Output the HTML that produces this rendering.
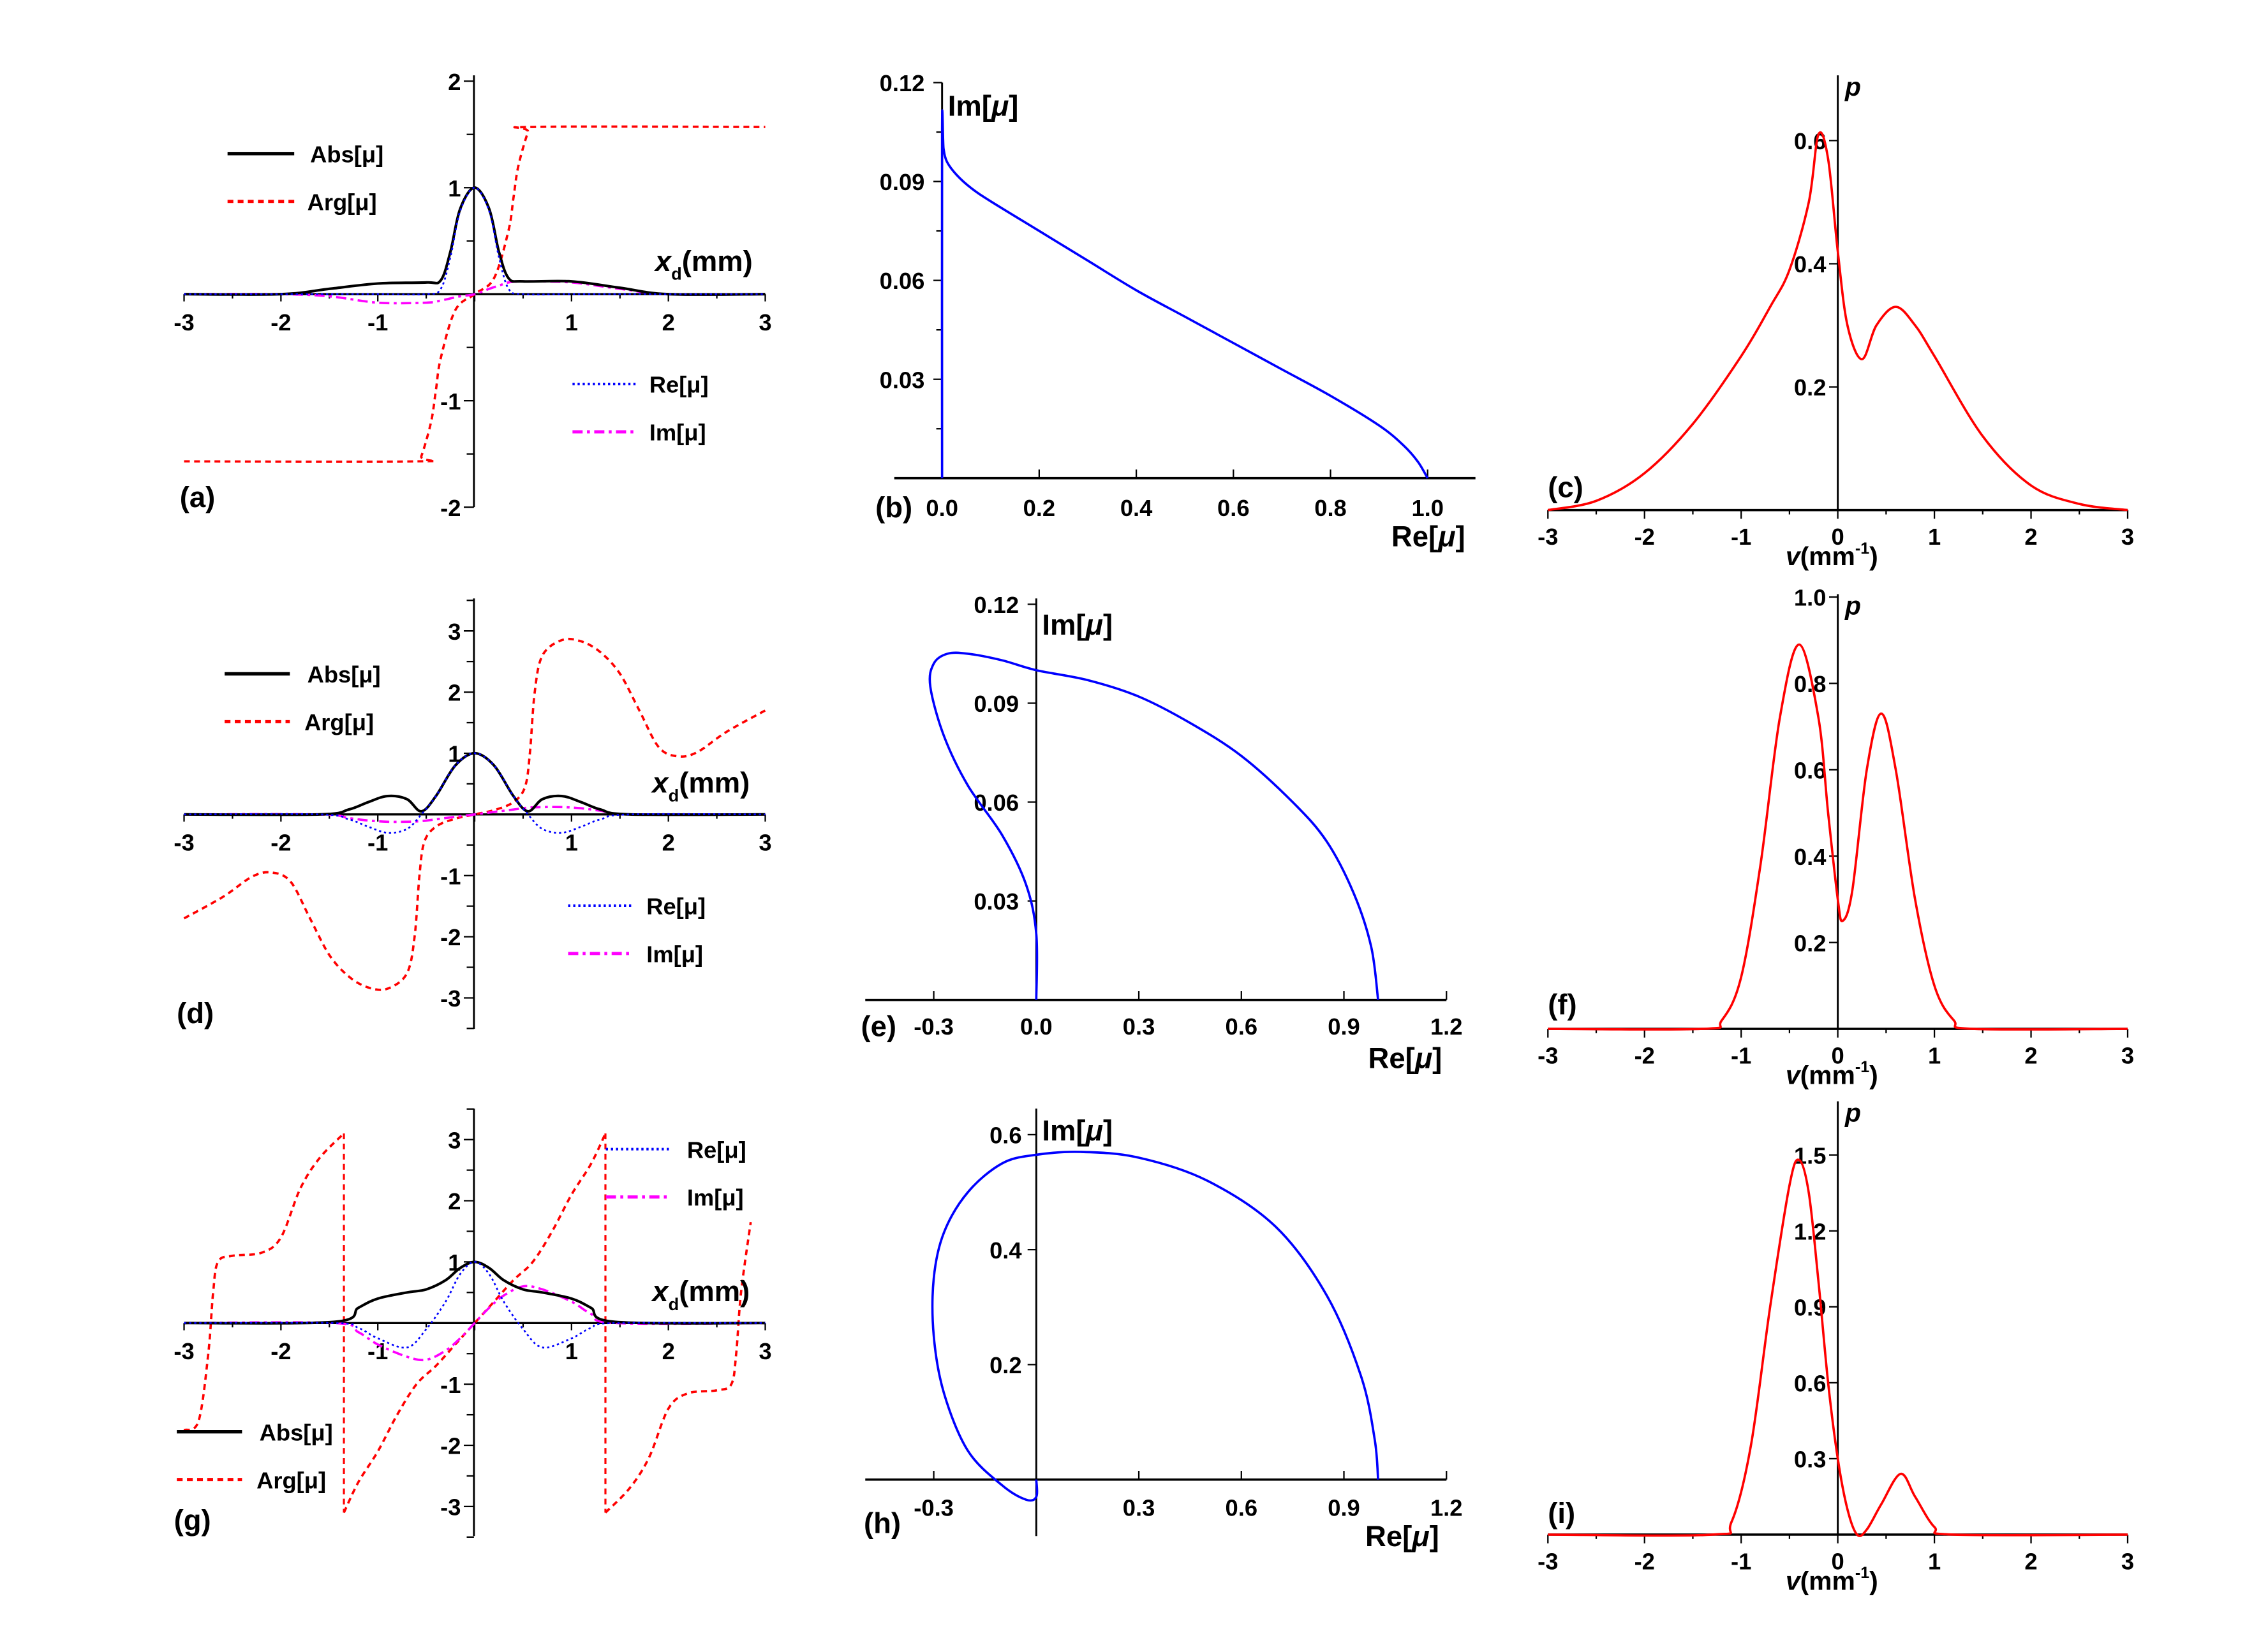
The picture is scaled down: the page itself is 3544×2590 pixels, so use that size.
<!DOCTYPE html>
<html><head><meta charset="utf-8"><style>
html,body{margin:0;padding:0;background:#fff}
svg{display:block}
text{font-family:"Liberation Sans",Arial,sans-serif;font-weight:bold;fill:#000}
</style></head><body>
<svg id="fig" xmlns="http://www.w3.org/2000/svg" width="3544" height="2590" viewBox="0 0 1560 1140" preserveAspectRatio="none">
<rect x="0" y="0" width="1560" height="1140" fill="#fff"/>
<g id="root"></g>
</svg>
<script>
// ---------- data (panel a) ----------
const aX=[-3,-2,-1.5,-1,-0.5,-0.35,-0.25,-0.15,0,0.15,0.25,0.35,0.5,1,1.5,2,3];
const aAbs=[0,0,0.05,0.1,0.11,0.13,0.4,0.8,1,0.8,0.4,0.15,0.12,0.12,0.06,0,0];
const aRe=[0,0,0,0,0,0.05,0.35,0.78,1,0.78,0.35,0.05,0,0,0,0,0];
const aIm=[0,0,-0.02,-0.08,-0.08,-0.06,-0.04,-0.02,0,0.05,0.08,0.11,0.12,0.11,0.05,0,0];
const aArgX=[-3,-0.6,-0.55,-0.45,-0.4,-0.35,-0.2,0,0.2,0.35,0.4,0.45,0.55,0.6,3];
const aArg=[-1.57,-1.57,-1.52,-1.2,-0.9,-0.6,-0.15,0,0.15,0.6,0.9,1.2,1.52,1.57,1.57];
// ---------- panel b ----------
const bRe=[0,0,0.003,0.01,0.03,0.06,0.1,0.2,0.3,0.4,0.5,0.6,0.7,0.8,0.9,0.95,0.98,1.0];
const bIm=[0,0.105,0.1,0.096,0.092,0.088,0.084,0.075,0.066,0.057,0.049,0.041,0.033,0.025,0.016,0.01,0.005,0];
// ---------- panel c ----------
const cV=[-3,-2.5,-2,-1.5,-1,-0.7,-0.5,-0.3,-0.2,-0.1,0,0.1,0.25,0.4,0.6,0.8,1,1.5,2,2.5,3];
const cP=[0,0.015,0.06,0.14,0.25,0.33,0.39,0.5,0.61,0.57,0.42,0.3,0.245,0.3,0.33,0.3,0.25,0.12,0.04,0.01,0];
// ---------- panel d ----------
const dX=[-3,-1.6,-1.3,-1.1,-0.9,-0.7,-0.55,-0.4,-0.2,0,0.2,0.4,0.55,0.7,0.9,1.1,1.3,1.6,3];
const dAbs=[0,0,0.08,0.2,0.3,0.25,0.05,0.3,0.8,1,0.8,0.3,0.05,0.25,0.3,0.2,0.08,0,0];
const dRe=[0,0,-0.08,-0.2,-0.3,-0.24,0,0.3,0.8,1,0.8,0.3,0,-0.24,-0.3,-0.2,-0.08,0,0];
const dIm=[0,0,-0.06,-0.1,-0.12,-0.12,-0.11,-0.08,-0.04,0,0.04,0.08,0.11,0.12,0.12,0.1,0.06,0,0];
const dArgX=[-3,-2.6,-2.3,-2.1,-1.9,-1.7,-1.5,-1.3,-1.1,-0.9,-0.7,-0.62,-0.57,-0.52,-0.4,-0.2,0,0.2,0.4,0.52,0.57,0.62,0.7,0.9,1.1,1.3,1.5,1.7,1.9,2.1,2.3,2.6,3];
const dArg=[-1.7,-1.35,-1.02,-0.95,-1.1,-1.7,-2.3,-2.65,-2.83,-2.85,-2.6,-2.0,-1.0,-0.45,-0.2,-0.07,0,0.07,0.2,0.45,1.0,2.0,2.6,2.85,2.83,2.65,2.3,1.7,1.1,0.95,1.02,1.35,1.7];
// ---------- panel e ----------
const eRe=[0,0,-0.03,-0.1,-0.2,-0.27,-0.31,-0.3,-0.26,-0.2,-0.1,0,0.15,0.3,0.45,0.6,0.75,0.85,0.93,0.98,1.0];
const eIm=[0,0.02,0.035,0.05,0.065,0.08,0.095,0.102,0.105,0.105,0.103,0.1,0.097,0.092,0.084,0.074,0.06,0.048,0.032,0.016,0];
// ---------- panel f ----------
const fV=[-3,-1.4,-1.2,-1,-0.8,-0.6,-0.4,-0.2,-0.1,0,0.05,0.15,0.3,0.45,0.6,0.8,1,1.2,1.4,3];
const fP=[0,0,0.02,0.12,0.38,0.72,0.89,0.72,0.5,0.3,0.25,0.32,0.6,0.73,0.6,0.3,0.1,0.02,0,0];
// ---------- panel g ----------
const gX=[-3,-1.45,-1.2,-1,-0.7,-0.5,-0.3,-0.15,0,0.15,0.3,0.5,0.7,1,1.2,1.45,3];
const gAbs=[0,0.02,0.25,0.4,0.5,0.55,0.7,0.9,1,0.9,0.7,0.55,0.5,0.4,0.25,0.02,0];
const gRe=[0,0,-0.08,-0.25,-0.4,-0.1,0.35,0.8,1,0.8,0.35,-0.1,-0.4,-0.25,-0.08,0,0];
const gIm=[0,0,-0.15,-0.35,-0.55,-0.6,-0.45,-0.25,0,0.25,0.45,0.6,0.55,0.35,0.15,0,0];
const gArgLX=[-3,-2.85,-2.75,-2.7,-2.65,-2.5,-2.2,-2.0,-1.8,-1.6,-1.35];
const gArgL=[-1.75,-1.6,-0.5,0.5,1.0,1.1,1.15,1.4,2.2,2.7,3.1];
const gArgMX=[-1.35,-1.2,-1,-0.8,-0.6,-0.4,-0.2,0,0.2,0.4,0.6,0.8,1,1.2,1.35];
const gArgM=[-3.1,-2.6,-2.1,-1.5,-1.0,-0.7,-0.35,0,0.35,0.7,1.0,1.5,2.1,2.6,3.1];
const gArgRX=[1.35,1.6,1.8,2.0,2.2,2.5,2.65,2.7,2.75,2.85];
const gArgR=[-3.1,-2.7,-2.2,-1.4,-1.15,-1.1,-1.0,-0.5,0.5,1.65];
// ---------- panel h ----------
const hRe=[0,0,-0.03,-0.1,-0.2,-0.27,-0.3,-0.3,-0.27,-0.2,-0.1,0,0.13,0.3,0.5,0.7,0.85,0.95,0.99,1.0];
const hIm=[0,-0.03,-0.035,-0.01,0.05,0.15,0.25,0.35,0.43,0.5,0.55,0.565,0.57,0.56,0.52,0.44,0.32,0.18,0.07,0];
// ---------- panel i ----------
const iV=[-3,-1.3,-1.1,-0.9,-0.7,-0.5,-0.4,-0.3,-0.2,-0.1,0,0.1,0.2,0.3,0.45,0.65,0.8,1,1.2,3];
const iP=[0,0,0.05,0.35,0.9,1.38,1.48,1.35,1.0,0.6,0.3,0.1,0,0.02,0.12,0.24,0.15,0.03,0,0];

// tick labels
const tickXd=[-3,-2,-1,1,2,3];
const tickYa=[-2,-1,1,2];
const tickYd=[-3,-2,-1,1,2,3];
const tickXb=["0.0","0.2","0.4","0.6","0.8","1.0"];
const tickYb=["0.03","0.06","0.09","0.12"];
const tickXv=[-3,-2,-1,0,1,2,3];
const tickYc=["0.2","0.4","0.6"];
const tickXe=["-0.3","0.0","0.3","0.6","0.9","1.2"];
const tickYe=["0.03","0.06","0.09","0.12"];
const tickYf=["0.2","0.4","0.6","0.8","1.0"];
const tickXh=["-0.3","0.3","0.6","0.9","1.2"];
const tickYh=["0.2","0.4","0.6"];
const tickYi=["0.3","0.6","0.9","1.2","1.5"];

const NS="http://www.w3.org/2000/svg";
const root=document.getElementById('root');
function el(tag,attrs,parent,txt){const e=document.createElementNS(NS,tag);for(const k in attrs)e.setAttribute(k,attrs[k]);if(txt!==undefined)e.textContent=txt;(parent||root).appendChild(e);return e;}
function scale(d0,d1,p0,p1){return v=>p0+(v-d0)/(d1-d0)*(p1-p0);}
function smoothPath(pts){
  let d="M"+pts[0][0].toFixed(2)+","+pts[0][1].toFixed(2);
  for(let i=0;i<pts.length-1;i++){
    const p0=pts[i-1]||pts[i],p1=pts[i],p2=pts[i+1],p3=pts[i+2]||p2;
    const c1=[p1[0]+(p2[0]-p0[0])/6,p1[1]+(p2[1]-p0[1])/6];
    const c2=[p2[0]-(p3[0]-p1[0])/6,p2[1]-(p3[1]-p1[1])/6];
    d+="C"+c1.map(v=>v.toFixed(2))+" "+c2.map(v=>v.toFixed(2))+" "+p2[0].toFixed(2)+","+p2[1].toFixed(2);
  }
  return d;
}
function series(g,xs,ys,sx,sy,style,name){
  const pts=xs.map((x,i)=>[sx(x),sy(ys[i])]);
  const p=el('path',Object.assign({d:smoothPath(pts),fill:'none'},style),g);
  
  
  return p;
}
const S={abs:{stroke:'#000','stroke-width':1.8},arg:{stroke:'#f00','stroke-width':1.6,'stroke-dasharray':'4,3'},
re:{stroke:'#00f','stroke-width':1.2,'stroke-dasharray':'1.5,2'},im:{stroke:'#f0f','stroke-width':1.6,'stroke-dasharray':'7,3,2,3'},
blue:{stroke:'#00f','stroke-width':1.6},red:{stroke:'#f00','stroke-width':1.6}};
function line(g,x1,y1,x2,y2,w,name){const l=el('line',{x1,y1,x2,y2,stroke:'#000','stroke-width':w||1.3},g);
  
  return l;}
function txt(g,x,y,s,size,anchor,name,extra){const t=el('text',Object.assign({x,y,'font-size':size,'text-anchor':anchor||'start'},extra||{}),g,s);
  
  return t;}
function panel(name){const g=el('g',{},root);
  
  return g;}
function legendEntry(g,x1,x2,y,style,label,tx,name){
  const grp=el('g',{},g);
  
  
  el('line',Object.assign({x1,y1:y,x2,y2:y},style,{'stroke-width':(style['stroke-width']||1.5)+0.6}),grp);
  txt(grp,tx,y+6,label,16,'start',name+'-label');
}
function muLabel(g,x,y,pre,size,name){
  const t=txt(g,x,y,'',size,'start',name);
  el('tspan',{},t,pre+'[');el('tspan',{'font-style':'italic'},t,'μ');el('tspan',{},t,']');
}
function xdLabel(g,x,y,name){
  const t=txt(g,x,y,'',20,'start',name,{'font-family':'Liberation Serif,serif'});
  el('tspan',{'font-style':'italic'},t,'x');el('tspan',{'font-size':12,dy:6},t,'d');el('tspan',{dy:-6},t,'(mm)');
}
function vLabel(g,x,y,name){
  const t=txt(g,x,y,'',18,'start',name,{'font-family':'Liberation Serif,serif'});
  el('tspan',{'font-style':'italic'},t,'v');el('tspan',{},t,'(mm');el('tspan',{'font-size':11,dy:-8},t,'-1');el('tspan',{dy:8},t,')');
}

// ===== left column panels (a, d, g) =====
function leftPanel(name,yTop,yBot,y0,yUnit,ymin,ymax,ticksY,xs){
  const g=panel(name);
  const sx=scale(-3,3,127,528), sy=v=>y0-v*yUnit;
  line(g,127,y0,528,y0,1.5,'x-axis');
  line(g,327,yTop,327,yBot,1.3,'y-axis');
  for(let v=-3;v<=3;v+=0.5){line(g,sx(v),y0,sx(v),y0+(v%1===0?5:3),1,'x-tick');}
  for(let v=ymin;v<=ymax;v+=0.5){line(g,327,sy(v),322-(v%1===0?2:0),sy(v),1,'y-tick');}
  tickXd.forEach(v=>txt(g,sx(v),y0+25,String(v),16,'middle','x-tick-label'));
  ticksY.forEach(v=>txt(g,318,sy(v)+6,String(v),16,'end','y-tick-label'));
  return {g,sx,sy};
}
// (a)
(function(){
  const P=leftPanel('panel-a',52,350,203,73.5,-2,2,tickYa);
  const {g,sx,sy}=P;
  series(g,aArgX,aArg,sx,sy,S.arg,'arg-curve');
  series(g,aX,aIm,sx,sy,S.im,'im-curve');
  series(g,aX,aAbs,sx,sy,S.abs,'abs-curve');
  series(g,aX,aRe,sx,sy,S.re,'re-curve');
  legendEntry(g,157,203,106,S.abs,'Abs[μ]',214,'legend-abs');
  legendEntry(g,157,203,139,S.arg,'Arg[μ]',212,'legend-arg');
  legendEntry(g,395,440,265,S.re,'Re[μ]',448,'legend-re');
  legendEntry(g,395,440,298,S.im,'Im[μ]',448,'legend-im');
  xdLabel(g,452,187,'x-axis-title');
  txt(g,124,350,'(a)',20,'start','panel-label-a');
})();
// (d)
(function(){
  const P=leftPanel('panel-d',413,710,562,42.2,-3.5,3.5,tickYd);
  const {g,sx,sy}=P;
  series(g,dArgX,dArg,sx,sy,S.arg,'arg-curve');
  series(g,dX,dIm,sx,sy,S.im,'im-curve');
  series(g,dX,dAbs,sx,sy,S.abs,'abs-curve');
  series(g,dX,dRe,sx,sy,S.re,'re-curve');
  legendEntry(g,155,200,465,S.abs,'Abs[μ]',212,'legend-abs');
  legendEntry(g,155,200,498,S.arg,'Arg[μ]',210,'legend-arg');
  legendEntry(g,392,437,625,S.re,'Re[μ]',446,'legend-re');
  legendEntry(g,392,437,658,S.im,'Im[μ]',446,'legend-im');
  xdLabel(g,450,547,'x-axis-title');
  txt(g,122,706,'(d)',20,'start','panel-label-d');
})();
// (g)
(function(){
  const P=leftPanel('panel-g',765,1060,913,42.2,-3.5,3.5,tickYd);
  const {g,sx,sy}=P;
  series(g,gArgLX,gArgL,sx,sy,S.arg,'arg-curve-left');
  series(g,gArgMX,gArgM,sx,sy,S.arg,'arg-curve-middle');
  series(g,gArgRX,gArgR,sx,sy,S.arg,'arg-curve-right');
  let j1=line(g,sx(-1.35),sy(3.1),sx(-1.35),sy(-3.1),1.4,'arg-jump-left');j1.setAttribute('stroke','#f00');j1.setAttribute('stroke-dasharray','4,3');
  let j2=line(g,sx(1.35),sy(3.1),sx(1.35),sy(-3.1),1.4,'arg-jump-right');j2.setAttribute('stroke','#f00');j2.setAttribute('stroke-dasharray','4,3');
  series(g,gX,gIm,sx,sy,S.im,'im-curve');
  series(g,gX,gAbs,sx,sy,S.abs,'abs-curve');
  series(g,gX,gRe,sx,sy,S.re,'re-curve');
  legendEntry(g,418,463,793,S.re,'Re[μ]',474,'legend-re');
  legendEntry(g,418,463,826,S.im,'Im[μ]',474,'legend-im');
  legendEntry(g,122,167,988,S.abs,'Abs[μ]',179,'legend-abs');
  legendEntry(g,122,167,1021,S.arg,'Arg[μ]',177,'legend-arg');
  xdLabel(g,450,898,'x-axis-title');
  txt(g,120,1056,'(g)',20,'start','panel-label-g');
})();

// ===== middle column (b, e, h) =====
(function(){
  const g=panel('panel-b');
  const sx=scale(0,1,650,985), sy=scale(0,0.12,330,57);
  line(g,617,330,1018,330,1.6,'x-axis');
  line(g,650,57,650,330,1.3,'y-axis');
  tickXb.forEach(v=>{line(g,sx(+v),330,sx(+v),324,1,'x-tick');txt(g,sx(+v),356,v,16,'middle','x-tick-label');});
  for(let v=0.015;v<0.12;v+=0.03)line(g,650,sy(v),646,sy(v),1,'y-minor-tick');
  tickYb.forEach(v=>{line(g,650,sy(+v),644,sy(+v),1,'y-tick');txt(g,638,sy(+v)+6,v,16,'end','y-tick-label');});
  series(g,bRe,bIm,sx,sy,S.blue,'trajectory-curve');
  muLabel(g,654,80,'Im',20,'y-axis-title');
  muLabel(g,960,377,'Re',20,'x-axis-title');
  txt(g,604,357,'(b)',20,'start','panel-label-b');
})();
(function(){
  const g=panel('panel-e');
  const sx=scale(0,1.2,715,998), sy=scale(0,0.12,690,417);
  line(g,597,690,998,690,1.6,'x-axis');
  line(g,715,413,715,690,1.3,'y-axis');
  tickXe.forEach(v=>{line(g,sx(+v),690,sx(+v),684,1,'x-tick');txt(g,sx(+v),714,v,16,'middle','x-tick-label');});
  tickYe.forEach(v=>{line(g,715,sy(+v),709,sy(+v),1,'y-tick');txt(g,703,sy(+v)+6,v,16,'end','y-tick-label');});
  series(g,eRe,eIm,sx,sy,S.blue,'trajectory-curve');
  muLabel(g,719,438,'Im',20,'y-axis-title');
  muLabel(g,944,737,'Re',20,'x-axis-title');
  txt(g,594,715,'(e)',20,'start','panel-label-e');
})();
(function(){
  const g=panel('panel-h');
  const sx=scale(0,1.2,715,998), sy=scale(0,0.6,1021,783);
  line(g,597,1021,998,1021,1.6,'x-axis');
  line(g,715,765,715,1060,1.3,'y-axis');
  tickXh.forEach(v=>{line(g,sx(+v),1021,sx(+v),1015,1,'x-tick');txt(g,sx(+v),1046,v,16,'middle','x-tick-label');});
  tickYh.forEach(v=>{line(g,715,sy(+v),709,sy(+v),1,'y-tick');txt(g,705,sy(+v)+6,v,16,'end','y-tick-label');});
  series(g,hRe,hIm,sx,sy,S.blue,'trajectory-curve');
  muLabel(g,719,787,'Im',20,'y-axis-title');
  muLabel(g,942,1067,'Re',20,'x-axis-title');
  txt(g,596,1058,'(h)',20,'start','panel-label-h');
})();

// ===== right column (c, f, i) =====
function rightPanel(name,y0,yTop,topV,topPx,ticks,pos,label,labelY){
  const g=panel(name);
  const sx=scale(-3,3,1068,1468), sy=scale(0,topV,y0,topPx);
  line(g,1068,y0,1468,y0,1.6,'x-axis');
  line(g,1268,yTop,1268,y0,1.3,'y-axis');
  for(let v=-3;v<=3;v+=0.5)line(g,sx(v),y0,sx(v),y0+(v%1===0?6:3),1,'x-tick');
  tickXv.forEach(v=>txt(g,sx(v),y0+24,String(v),16,'middle','x-tick-label'));
  ticks.forEach(v=>{line(g,1268,sy(+v),1262,sy(+v),1,'y-tick');txt(g,1260,sy(+v)+6,v,16,'end','y-tick-label');});
  txt(g,1273,yTop+14,'p',18,'start','y-axis-title',{'font-style':'italic','font-family':'Liberation Serif,serif'});
  vLabel(g,1232,y0+38,'x-axis-title');
  txt(g,1068,labelY,label,20,'start','panel-label');
  return {g,sx,sy};
}
(function(){const {g,sx,sy}=rightPanel('panel-c',352,52,0.6,97,tickYc,0,'(c)',343);
  series(g,cV,cP,sx,sy,S.red,'probability-curve');})();
(function(){const {g,sx,sy}=rightPanel('panel-f',710,410,1.0,412,tickYf,0,'(f)',700);
  series(g,fV,fP,sx,sy,S.red,'probability-curve');})();
(function(){const {g,sx,sy}=rightPanel('panel-i',1059,760,1.5,797,tickYi,0,'(i)',1051);
  series(g,iV,iP,sx,sy,S.red,'probability-curve');})();
</script>
</body></html>
